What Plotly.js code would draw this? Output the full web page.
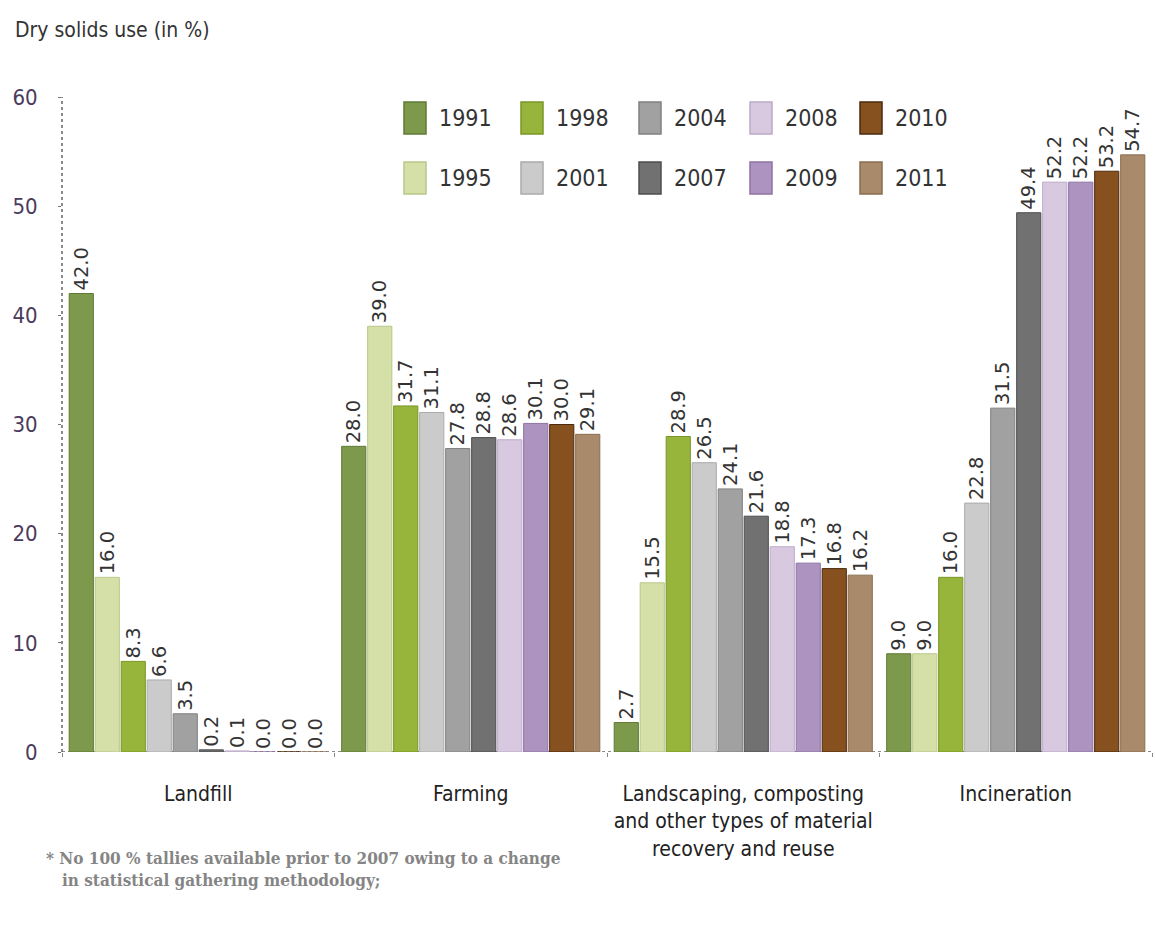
<!DOCTYPE html>
<html>
<head>
<meta charset="utf-8">
<script src="https://cdn.plot.ly/plotly-3.0.1.min.js"></script>
<style>
  html, body { margin: 0; padding: 0; background: #ffffff; }
  #chart { width: 1155px; height: 929px; }
</style>
</head>
<body>
<div id="chart"></div>
<script>
// ---- Data ----
const categories = [
  'Landfill',
  'Farming',
  'Landscaping, composting<br>and other types of material<br>recovery and reuse',
  'Incineration'
];
const years = ['1991', '1995', '1998', '2001', '2004', '2007', '2008', '2009', '2010', '2011'];
// values per category, in year order
const landfill     = [42.0, 16.0, 8.3, 6.6, 3.5, 0.2, 0.1, 0.0, 0.0, 0.0];
const farming      = [28.0, 39.0, 31.7, 31.1, 27.8, 28.8, 28.6, 30.1, 30.0, 29.1];
const landscaping  = [2.7, 15.5, 28.9, 26.5, 24.1, 21.6, 18.8, 17.3, 16.8, 16.2];
const incineration = [9.0, 9.0, 16.0, 22.8, 31.5, 49.4, 52.2, 52.2, 53.2, 54.7];
const categoryValues = [landfill, farming, landscaping, incineration];

// ---- Styles ----
const fillColors = ['#7d9a4c', '#d5e0a9', '#97b53a', '#cbcbcb', '#a1a1a1', '#717171', '#d8c9e1', '#ad93c0', '#87501f', '#a98b6b'];
const lineColors = ['#5f7a35', '#b9c78a', '#7a9628', '#aaaaaa', '#808080', '#4e4e4e', '#bcaac8', '#8f73a3', '#4a2a0e', '#8a6e50'];
// legend layout: 2 rows, column-major (1991,1995 | 1998,2001 | ...)
const legendOrder = ['1991', '1998', '2004', '2008', '2010', '1995', '2001', '2007', '2009', '2011'];

const condensed = '"DejaVu Sans Condensed", "Liberation Sans Narrow", "DejaVu Sans", sans-serif';

const W = 1155, H = 929;
const M = { l: 62, r: 3, t: 97, b: 177 };
const PW = W - M.l - M.r, PH = H - M.t - M.b;
const px2x = px => (px - M.l) / PW;
const px2y = py => (H - M.b - py) / PH;

const traces = years.map((yr, i) => ({
  type: 'bar',
  name: yr,
  x: categories,
  y: categoryValues.map(arr => arr[i]),
  marker: { color: fillColors[i], line: { color: lineColors[i], width: 1 } },
  texttemplate: '%{y:.1f}',
  textposition: 'outside',
  textangle: -90,
  constraintext: 'none',
  textfont: { family: '"DejaVu Sans", sans-serif', size: 19.5, color: '#333333' },
  cliponaxis: false,
  showlegend: false,
  hoverinfo: 'x+y+name'
}));

// manual legend (2 rows x 5 columns)
const shapes = [];
const annotations = [];
const colX = [404, 521, 639, 750, 860];
const rowY = [118, 178];
legendOrder.forEach((yr, k) => {
  const i = years.indexOf(yr);
  const col = k % 5, row = Math.floor(k / 5);
  const x0 = colX[col], yc = rowY[row];
  shapes.push({
    type: 'rect', xref: 'paper', yref: 'paper',
    x0: px2x(x0), x1: px2x(x0 + 22),
    y0: px2y(yc + 16), y1: px2y(yc - 16),
    fillcolor: fillColors[i], line: { color: lineColors[i], width: 1.5 }
  });
  annotations.push({
    xref: 'paper', yref: 'paper',
    x: px2x(x0 + 33), y: px2y(yc),
    xanchor: 'left', yanchor: 'middle',
    text: yr, showarrow: false,
    font: { family: condensed, size: 23, color: '#333333' }
  });
});

// dotted axis lines
shapes.push({
  type: 'line', xref: 'paper', yref: 'y', x0: 0, x1: 0, y0: 0, y1: 60,
  line: { color: '#666666', width: 1.5, dash: 'dot' }, layer: 'below'
});
shapes.push({
  type: 'line', xref: 'paper', yref: 'y', x0: 0, x1: 1, y0: 0, y1: 0,
  line: { color: '#666666', width: 1.5, dash: 'dot' }, layer: 'below'
});

// footnote
annotations.push({
  xref: 'paper', yref: 'paper',
  x: px2x(44), y: px2y(846),
  xanchor: 'left', yanchor: 'top', align: 'left',
  text: '* No 100 % tallies available prior to 2007 owing to a change<br>   in statistical gathering methodology;',
  showarrow: false,
  font: { family: '"DejaVu Serif Condensed", "DejaVu Serif", "Liberation Serif", serif', size: 17, color: '#858585', weight: 'bold' }
});

const layout = {
  width: W, height: H,
  margin: M,
  paper_bgcolor: '#ffffff',
  plot_bgcolor: '#ffffff',
  barmode: 'group',
  bargap: 0.046,
  bargroupgap: 0.07,
  title: {
    text: 'Dry solids use (in %)',
    x: 15 / W, xanchor: 'left', xref: 'container',
    y: 1 - 30 / H, yanchor: 'middle', yref: 'container',
    font: { family: condensed, size: 21, color: '#333333' }
  },
  xaxis: {
    type: 'category',
    showline: false, showgrid: false, zeroline: false,
    ticks: 'outside', tickson: 'boundaries', ticklen: 4, tickcolor: '#888888',
    tickangle: 0,
    ticklabelstandoff: 27,
    tickfont: { family: condensed, size: 21, color: '#222222' }
  },
  yaxis: {
    range: [0, 60],
    tickvals: [0, 10, 20, 30, 40, 50, 60],
    showline: false, showgrid: false, zeroline: false,
    ticks: 'outside', ticklen: 3, tickcolor: '#777777',
    ticklabelstandoff: 16,
    tickfont: { family: condensed, size: 22, color: '#4a3a5c' }
  },
  shapes: shapes,
  annotations: annotations,
  showlegend: false
};

Plotly.newPlot('chart', traces, layout, { displayModeBar: false, staticPlot: true });
</script>
</body>
</html>
